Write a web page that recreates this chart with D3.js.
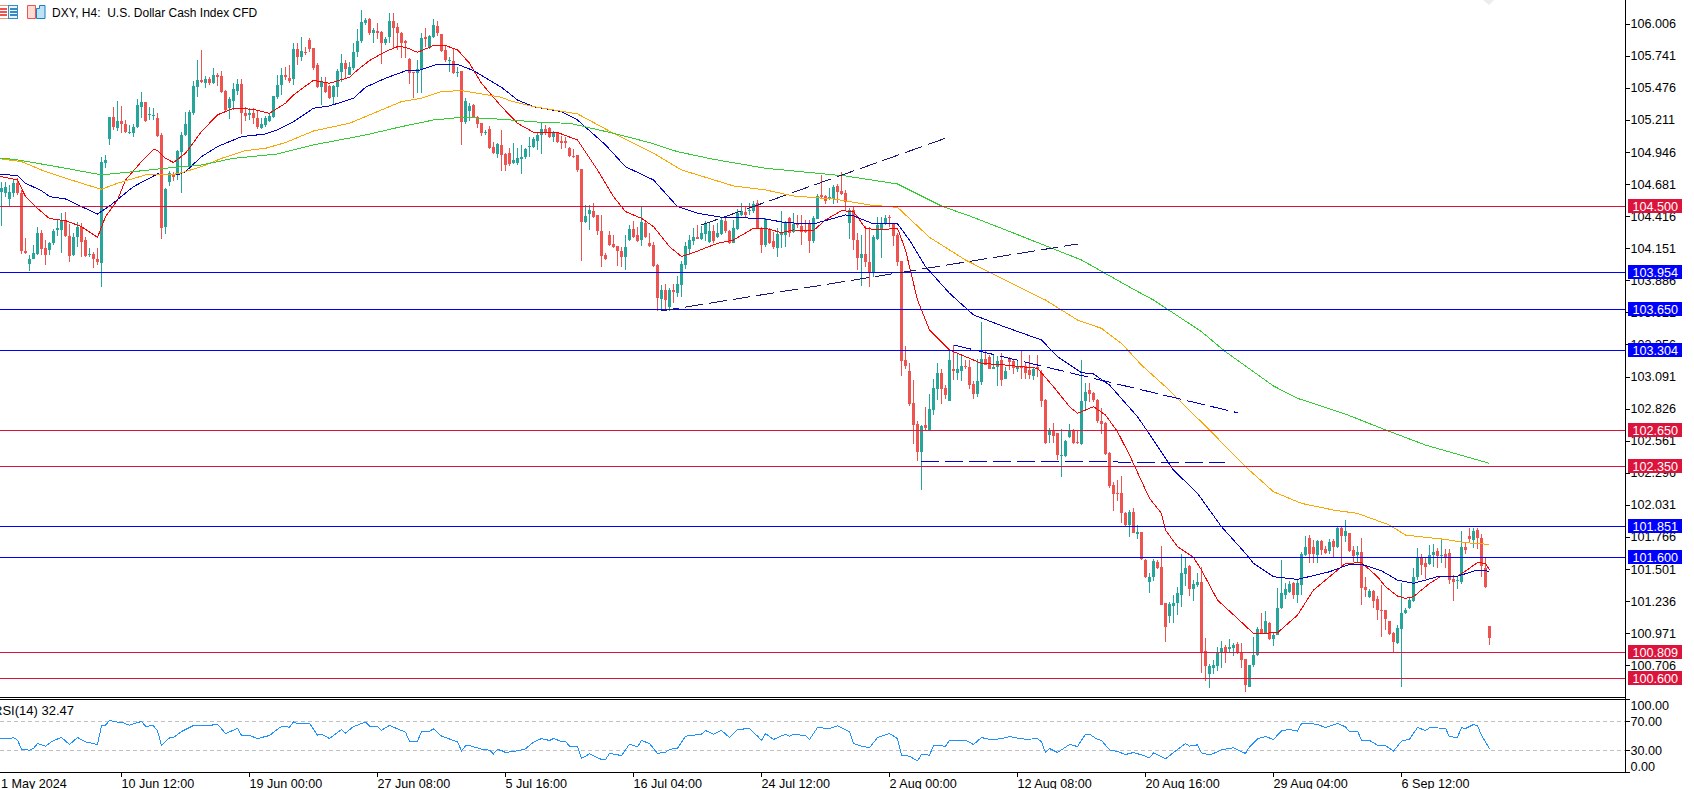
<!DOCTYPE html>
<html>
<head>
<meta charset="utf-8">
<title>DXY H4</title>
<script src="https://cdnjs.cloudflare.com/ajax/libs/d3/7.8.5/d3.min.js"></script>
<style>
  html, body { margin: 0; padding: 0; background: #fff; overflow: hidden; }
  svg { display: block; }
  text { font-family: "Liberation Sans", Arial, sans-serif; font-size: 12.6px; fill: #000; }
</style>
</head>
<body>
<div id="chart"></div>
<script>
// prices, one entry per bar
const opens = [
  104.623,104.609,104.562,104.609,104.697,104.615,104.135,104.025,104.069,104.108,
  104.284,104.155,104.141,104.196,104.306,104.306,104.378,104.256,104.097,104.245,
  104.328,104.223,104.099,104.108,104.064,104.031,104.863,105.058,105.243,105.146,
  105.210,105.182,105.105,105.111,105.155,105.325,105.364,105.257,105.254,105.232,
  105.094,104.328,104.703,104.769,104.769,104.951,105.091,104.829,105.270,105.485,
  105.546,105.518,105.557,105.524,105.587,105.579,105.458,105.314,105.375,105.458,
  105.513,105.276,105.259,105.270,105.232,105.149,105.171,105.210,105.243,105.408,
  105.502,105.584,105.562,105.551,105.799,105.739,105.780,105.876,105.808,105.670,
  105.485,105.532,105.496,105.408,105.491,105.612,105.684,105.590,105.642,105.780,
  105.871,106.014,106.047,105.931,105.948,105.943,105.854,105.898,106.031,105.981,
  105.937,105.865,105.717,105.612,105.606,105.634,105.898,105.808,105.904,105.992,
  105.926,105.794,105.706,105.700,105.601,105.623,105.199,105.292,105.336,105.237,
  105.188,105.108,105.138,104.989,104.934,105.009,104.934,104.945,104.863,104.863,
  104.896,104.907,104.989,104.995,105.044,105.088,105.138,105.149,105.077,105.116,
  105.044,105.039,104.981,104.918,104.926,104.807,104.372,104.438,104.466,104.430,
  104.295,104.102,104.262,104.188,104.174,104.132,104.086,104.223,104.312,104.265,
  104.223,104.361,104.196,104.182,104.017,103.739,103.810,103.667,103.807,103.783,
  103.849,104.020,104.152,104.212,104.248,104.234,104.273,104.207,104.295,104.251,
  104.273,104.383,104.295,104.201,104.317,104.430,104.455,104.460,104.466,104.526,
  104.323,104.179,104.312,104.212,104.157,104.267,104.267,104.402,104.290,104.356,
  104.339,104.301,104.367,104.212,104.400,104.593,104.587,104.565,104.565,104.670,
  104.628,104.615,104.367,104.471,104.223,104.075,104.108,104.042,103.959,104.229,
  104.306,104.356,104.416,104.356,104.262,104.047,103.232,103.138,102.873,102.703,
  102.471,102.694,102.653,102.818,102.989,103.127,103.000,102.895,103.154,103.127,
  103.143,103.182,103.171,103.033,102.951,103.050,103.237,103.259,103.160,103.171,
  103.232,103.077,103.237,103.226,103.154,103.182,103.182,103.149,103.099,103.171,
  103.127,102.901,102.609,102.648,102.625,102.444,102.438,102.592,102.648,102.554,
  102.537,102.890,102.984,102.956,102.901,102.730,102.714,102.466,102.198,102.135,
  102.135,101.964,101.871,101.975,101.793,101.810,101.579,101.397,101.441,101.565,
  101.518,101.220,101.116,101.198,101.220,101.292,101.463,101.529,101.336,101.369,
  101.397,100.824,100.636,100.686,100.703,100.813,100.857,100.846,100.851,100.884,
  100.813,100.758,100.532,100.708,100.796,101.006,100.978,101.061,100.923,100.961,
  101.179,101.292,101.314,101.386,101.292,101.369,101.617,101.760,101.683,101.623,
  101.733,101.667,101.656,101.733,101.689,101.843,101.777,101.799,101.661,101.617,
  101.645,101.353,101.270,101.320,101.256,101.165,101.165,101.074,100.975,100.890,
  101.011,101.138,101.179,101.242,101.435,101.601,101.551,101.546,101.620,101.653,
  101.614,101.628,101.639,101.421,101.410,101.399,101.683,101.777,101.744,101.827,
  101.758,101.510,101.033
];
const highs = [
  104.706,104.706,104.678,104.719,104.733,104.637,104.237,104.099,104.182,104.328,
  104.306,104.223,104.210,104.317,104.389,104.444,104.452,104.356,104.278,104.369,
  104.361,104.245,104.155,104.127,104.155,104.912,104.926,105.243,105.320,105.369,
  105.331,105.215,105.174,105.182,105.392,105.444,105.364,105.320,105.312,105.270,
  105.105,104.650,104.791,104.788,104.967,105.119,105.281,105.298,105.535,105.711,
  105.794,105.579,105.573,105.642,105.606,105.623,105.463,105.403,105.518,105.557,
  105.551,105.320,105.312,105.312,105.292,105.232,105.248,105.270,105.414,105.590,
  105.642,105.656,105.670,105.849,105.854,105.904,105.821,105.890,105.808,105.689,
  105.573,105.573,105.504,105.507,105.634,105.761,105.711,105.697,105.854,105.965,
  106.124,106.055,106.055,105.973,106.020,105.954,105.898,106.102,106.102,106.014,
  105.945,105.876,105.725,105.612,105.711,105.931,105.973,105.918,106.047,106.036,
  105.926,105.827,105.739,105.808,105.656,105.623,105.394,105.353,105.347,105.248,
  105.193,105.133,105.166,105.036,105.022,105.133,104.945,104.981,105.022,104.981,
  105.009,104.981,105.072,105.072,105.116,105.188,105.171,105.160,105.127,105.119,
  105.083,105.077,104.995,104.978,104.926,104.807,104.513,104.513,104.526,104.430,
  104.430,104.119,104.295,104.267,104.174,104.168,104.265,104.347,104.383,104.334,
  104.499,104.375,104.278,104.210,104.025,103.851,103.860,103.824,103.860,103.926,
  104.053,104.210,104.265,104.320,104.347,104.339,104.383,104.367,104.347,104.361,
  104.416,104.405,104.306,104.389,104.477,104.526,104.493,104.526,104.548,104.554,
  104.334,104.402,104.320,104.292,104.320,104.460,104.383,104.411,104.444,104.430,
  104.430,104.389,104.389,104.422,104.603,104.758,104.595,104.650,104.678,104.686,
  104.788,104.637,104.485,104.499,104.278,104.265,104.339,104.334,104.265,104.416,
  104.416,104.430,104.430,104.361,104.278,104.053,103.347,103.210,103.066,102.730,
  102.694,102.840,102.951,103.072,103.204,103.154,103.025,103.314,103.356,103.287,
  103.273,103.232,103.232,103.061,103.237,103.546,103.309,103.273,103.273,103.265,
  103.287,103.176,103.254,103.237,103.232,103.309,103.218,103.273,103.176,103.273,
  103.149,102.912,102.667,102.714,102.631,102.659,102.570,102.703,102.659,102.653,
  103.232,103.039,103.044,102.970,102.912,102.832,102.722,102.474,102.226,102.240,
  102.273,101.978,101.992,102.006,101.865,101.813,101.584,101.468,101.584,101.579,
  101.694,101.226,101.234,101.289,101.353,101.628,101.601,101.537,101.413,101.468,
  101.518,100.934,100.719,100.752,100.862,100.912,100.876,100.923,100.895,100.904,
  100.890,100.758,100.714,100.945,101.022,101.143,101.154,101.069,100.972,101.344,
  101.579,101.386,101.408,101.399,101.413,101.647,101.777,101.785,101.744,101.744,
  101.744,101.694,101.749,101.755,101.860,101.854,101.909,101.804,101.694,101.694,
  101.758,101.441,101.336,101.331,101.281,101.372,101.165,101.077,100.984,101.041,
  101.386,101.179,101.270,101.510,101.675,101.628,101.601,101.703,101.711,101.675,
  101.749,101.667,101.667,101.455,101.435,101.821,101.725,101.840,101.843,101.840,
  101.793,101.592,101.033
];
const lows = [
  104.339,104.582,104.493,104.582,104.595,104.108,104.108,103.970,104.064,104.099,
  104.099,104.017,104.099,104.182,104.256,104.113,104.251,104.044,104.091,104.163,
  104.080,104.080,104.086,103.995,104.017,103.838,104.821,105.009,105.133,105.127,
  105.111,105.105,105.100,105.077,105.146,105.229,105.199,105.215,105.215,105.077,
  104.234,104.273,104.670,104.714,104.719,104.615,105.083,104.816,105.257,105.408,
  105.524,105.477,105.502,105.513,105.496,105.436,105.292,105.226,105.298,105.422,
  105.100,105.210,105.215,105.182,105.138,105.144,105.160,105.199,105.229,105.392,
  105.422,105.546,105.524,105.504,105.670,105.706,105.752,105.780,105.628,105.477,
  105.339,105.436,105.386,105.347,105.408,105.532,105.560,105.584,105.628,105.739,
  105.854,106.000,105.918,105.854,105.882,105.678,105.835,105.849,105.808,105.794,
  105.725,105.725,105.513,105.397,105.436,105.441,105.816,105.799,105.890,105.909,
  105.780,105.697,105.615,105.595,105.568,105.009,105.182,105.204,105.237,105.146,
  105.083,105.091,104.973,104.934,104.904,104.796,104.796,104.835,104.852,104.843,
  104.769,104.896,104.907,104.981,104.967,104.934,105.088,105.066,105.036,105.022,
  104.973,104.981,104.907,104.898,104.785,104.053,104.361,104.306,104.402,104.265,
  104.003,104.058,104.174,104.157,104.009,103.998,103.975,104.218,104.240,104.207,
  104.174,104.237,104.168,104.003,103.639,103.639,103.645,103.634,103.700,103.750,
  103.755,103.981,104.099,104.182,104.229,104.223,104.218,104.196,104.201,104.237,
  104.265,104.284,104.190,104.196,104.306,104.422,104.411,104.430,104.444,104.312,
  104.113,104.168,104.190,104.146,104.080,104.155,104.168,104.251,104.284,104.320,
  104.182,104.278,104.119,104.196,104.394,104.568,104.521,104.554,104.521,104.526,
  104.595,104.471,104.229,104.141,103.975,103.843,104.003,103.832,103.915,104.223,
  104.072,104.347,104.334,104.174,104.009,103.099,103.154,102.851,102.537,102.400,
  102.157,102.653,102.648,102.777,102.901,102.868,102.906,102.890,103.066,103.066,
  103.061,103.154,102.989,102.909,102.929,103.025,103.187,103.154,103.154,103.017,
  103.017,103.072,103.149,103.116,103.135,103.075,103.075,103.072,103.066,103.094,
  102.840,102.537,102.548,102.548,102.405,102.267,102.427,102.584,102.537,102.537,
  102.529,102.818,102.887,102.887,102.714,102.620,102.446,102.171,101.986,102.069,
  101.887,101.849,101.766,101.799,101.755,101.579,101.427,101.309,101.408,101.507,
  101.204,100.904,101.055,101.061,101.124,101.193,101.364,101.281,101.242,101.358,
  100.642,100.581,100.523,100.636,100.664,100.683,100.730,100.807,100.785,100.802,
  100.683,100.490,100.526,100.697,100.785,100.967,100.972,100.917,100.868,100.956,
  101.171,101.253,101.303,101.259,101.226,101.289,101.612,101.557,101.551,101.551,
  101.620,101.628,101.628,101.606,101.678,101.518,101.730,101.647,101.565,101.565,
  101.207,101.275,101.262,101.179,101.083,100.945,101.000,100.961,100.816,100.884,
  100.532,101.133,101.171,101.231,101.413,101.455,101.419,101.537,101.518,101.510,
  101.551,101.510,101.380,101.242,101.336,101.380,101.628,101.730,101.675,101.672,
  101.441,101.344,100.876
];
const closes = [
  104.651,104.664,104.623,104.692,104.615,104.135,104.113,104.064,104.113,104.278,
  104.146,104.097,104.196,104.301,104.323,104.383,104.256,104.091,104.251,104.334,
  104.210,104.094,104.105,104.064,104.044,104.871,104.882,105.237,105.155,105.210,
  105.182,105.119,105.116,105.155,105.336,105.364,105.210,105.265,105.259,105.083,
  104.323,104.642,104.774,104.747,104.962,105.091,105.182,105.281,105.496,105.546,
  105.529,105.551,105.518,105.584,105.571,105.447,105.298,105.386,105.469,105.513,
  105.270,105.248,105.270,105.232,105.155,105.182,105.232,105.248,105.414,105.504,
  105.590,105.568,105.535,105.799,105.739,105.785,105.774,105.799,105.645,105.485,
  105.532,105.449,105.397,105.496,105.623,105.684,105.639,105.656,105.780,105.871,
  106.025,106.042,105.931,105.959,105.937,105.854,105.882,106.031,105.973,105.937,
  105.849,105.854,105.601,105.601,105.634,105.890,105.882,105.909,105.998,105.931,
  105.788,105.711,105.711,105.606,105.615,105.199,105.375,105.331,105.243,105.182,
  105.111,105.113,104.984,104.940,105.017,104.926,104.843,104.852,104.885,104.898,
  104.912,104.976,105.000,105.055,105.091,105.138,105.111,105.077,105.111,105.033,
  105.028,105.028,104.918,104.907,104.802,104.372,104.422,104.471,104.411,104.301,
  104.091,104.064,104.179,104.163,104.135,104.086,104.168,104.312,104.245,104.212,
  104.372,104.245,104.174,104.009,103.744,103.810,103.727,103.810,103.794,103.860,
  104.025,104.174,104.223,104.245,104.234,104.278,104.356,104.301,104.212,104.284,
  104.389,104.295,104.201,104.320,104.449,104.460,104.433,104.471,104.521,104.323,
  104.179,104.394,104.201,104.168,104.273,104.278,104.367,104.278,104.356,104.345,
  104.292,104.295,104.212,104.405,104.587,104.576,104.548,104.576,104.664,104.620,
  104.603,104.537,104.471,104.223,104.075,104.108,104.042,103.959,104.245,104.347,
  104.361,104.405,104.405,104.256,104.044,103.226,103.182,102.868,102.697,102.471,
  102.686,102.667,102.824,103.000,103.121,102.995,102.940,103.232,103.138,103.154,
  103.182,103.176,103.022,102.951,103.055,103.237,103.193,103.160,103.176,103.221,
  103.066,103.143,103.215,103.165,103.176,103.165,103.127,103.105,103.154,103.154,
  102.895,102.548,102.648,102.603,102.449,102.449,102.559,102.648,102.543,102.543,
  102.890,102.967,102.951,102.901,102.730,102.703,102.455,102.190,102.124,102.130,
  101.964,101.868,101.975,101.804,101.810,101.584,101.435,101.435,101.568,101.513,
  101.209,101.028,101.215,101.220,101.303,101.468,101.513,101.336,101.380,101.397,
  100.813,100.703,100.703,100.711,100.813,100.851,100.818,100.862,100.879,100.807,
  100.752,100.545,100.711,100.796,101.006,100.972,101.072,100.928,100.956,101.179,
  101.303,101.336,101.380,101.292,101.386,101.628,101.683,101.628,101.628,101.733,
  101.661,101.639,101.727,101.683,101.843,101.777,101.821,101.656,101.612,101.645,
  101.347,101.331,101.325,101.237,101.165,101.160,101.088,100.967,100.898,101.017,
  101.138,101.165,101.248,101.441,101.601,101.537,101.518,101.620,101.647,101.612,
  101.620,101.601,101.413,101.399,101.416,101.689,101.661,101.749,101.821,101.760,
  101.529,101.353,100.937
];

// moving averages, read at the bars where the line bends
const fastBars = [-1,0,4,6,9,12,16,20,24,26,29,31,35,38,39,41,43,46,50,54,58,63,67,71,73,78,82,87,89,92,96,99,101,104,108,111,114,117,120,125,129,133,139,144,149,153,156,160,163,167,170,173,179,183,188,191,195,198,203,206,210,213,216,219,224,226,228,229,232,237,245,251,259,263,267,269,273,276,279,282,287,290,291,294,298,300,304,309,313,319,324,328,333,336,340,344,346,349,351,353,357,360,364,367,369,371,372];
const fastMa = [104.750,104.747,104.719,104.582,104.485,104.400,104.383,104.334,104.245,104.416,104.554,104.719,104.871,104.973,104.962,104.898,104.863,104.940,105.119,105.257,105.312,105.303,105.270,105.353,105.422,105.543,105.518,105.568,105.628,105.706,105.780,105.821,105.816,105.774,105.830,105.830,105.794,105.684,105.518,105.325,105.188,105.113,105.111,105.050,104.802,104.582,104.458,104.402,104.334,104.168,104.086,104.119,104.196,104.223,104.320,104.320,104.284,104.306,104.301,104.389,104.466,104.458,104.320,104.306,104.320,104.141,103.865,103.727,103.480,103.314,103.204,103.190,103.163,103.011,102.846,102.791,102.846,102.777,102.639,102.446,102.088,101.964,101.827,101.689,101.601,101.496,101.248,101.096,100.972,100.978,101.124,101.331,101.468,101.551,101.557,101.441,101.358,101.281,101.262,101.276,101.386,101.446,101.446,101.510,101.559,101.551,101.496];
const midBars = [-1,0,4,6,10,12,16,20,24,27,33,39,44,46,50,54,60,66,69,73,78,82,88,91,96,101,104,109,114,118,125,129,133,140,144,151,156,163,169,174,180,190,196,203,211,213,218,224,227,231,237,243,250,260,264,270,273,277,284,288,293,299,305,311,313,318,324,332,337,340,345,349,353,359,364,369,371,372];
const midMa = [104.766,104.766,104.755,104.692,104.631,104.582,104.562,104.499,104.438,104.504,104.664,104.769,104.761,104.788,104.912,104.995,105.077,105.099,105.133,105.201,105.312,105.331,105.394,105.485,105.560,105.620,105.620,105.675,105.675,105.623,105.485,105.380,105.325,105.284,105.215,105.009,104.829,104.719,104.499,104.444,104.411,104.402,104.367,104.356,104.430,104.422,104.356,104.356,104.223,104.003,103.783,103.604,103.515,103.397,103.259,103.127,103.116,103.025,102.763,102.570,102.322,102.130,101.854,101.634,101.551,101.441,101.419,101.482,101.543,101.543,101.490,101.413,101.386,101.441,101.446,101.496,101.496,101.477];
const slowBars = [-1,0,5,11,20,25,29,36,44,50,55,61,66,71,78,87,94,100,105,110,115,125,127,133,144,153,163,170,183,191,198,208,217,224,232,241,250,261,269,275,280,285,291,302,311,318,325,333,339,347,351,361,366,372];
const slowMa = [104.895,104.893,104.871,104.788,104.692,104.642,104.692,104.761,104.769,104.829,104.898,104.962,104.981,105.028,105.124,105.188,105.284,105.367,105.394,105.449,105.458,105.403,105.375,105.325,105.265,105.105,104.940,104.802,104.670,104.637,104.587,104.562,104.513,104.493,104.245,104.058,103.907,103.727,103.562,103.493,103.369,103.190,103.011,102.653,102.350,102.143,102.047,101.992,101.964,101.868,101.785,101.749,101.722,101.708];
const longBars = [-1,0,3,9,16,25,33,41,50,58,69,78,91,100,108,115,125,136,142,153,162,169,178,191,211,224,235,242,250,270,283,288,300,306,318,324,336,345,356,372];
const longMa = [104.900,104.898,104.890,104.857,104.816,104.761,104.788,104.816,104.843,104.898,104.934,105.009,105.091,105.160,105.215,105.237,105.221,105.193,105.188,105.105,105.028,104.953,104.890,104.816,104.752,104.686,104.504,104.422,104.320,104.058,103.816,103.727,103.466,103.300,103.017,102.915,102.785,102.667,102.529,102.378];

const rsiBars = [-1,0,2,3,4,5,7,8,9,11,13,15,17,19,21,24,25,26,27,29,30,32,34,35,36,38,39,40,42,43,45,46,48,52,54,56,58,59,60,62,64,67,69,70,72,73,74,77,79,80,82,85,86,88,91,92,94,95,97,100,101,102,104,105,107,108,110,114,115,116,117,120,122,123,124,125,126,129,131,133,135,137,138,140,141,142,144,145,147,150,151,152,155,157,159,160,162,164,166,167,169,171,175,176,178,180,182,184,187,189,190,191,193,196,197,198,201,202,204,207,209,212,213,215,217,219,222,224,225,227,229,230,232,233,236,237,241,243,245,247,250,252,254,256,259,260,261,262,264,267,269,271,272,274,275,277,279,281,283,285,287,288,291,293,296,297,299,300,302,303,305,308,311,312,314,316,318,320,322,324,325,327,329,331,334,336,337,339,340,342,344,346,348,350,352,354,356,357,361,362,364,365,366,368,369,370,372];
const rsiValues = [46.5,46.5,46.1,47.9,44.2,31.8,30.5,32.8,39.6,36.0,43.8,47.9,38.3,47.9,41.9,38.3,64.0,64.9,71.4,69.1,69.1,64.9,68.6,70.0,63.6,64.0,57.1,36.9,47.5,47.9,56.2,59.0,64.5,64.5,66.3,53.4,58.0,60.8,50.7,50.7,46.5,50.7,59.4,63.1,62.2,69.5,67.2,67.7,51.1,52.5,46.5,59.0,53.9,63.1,69.1,63.6,63.1,58.0,64.5,57.6,55.3,42.4,42.9,56.2,56.7,59.9,49.8,41.9,29.5,36.4,36.9,31.8,30.5,25.4,31.4,30.0,27.2,29.5,32.3,41.5,46.5,43.8,46.5,42.4,42.4,36.0,35.0,19.0,25.4,17.6,17.6,25.9,23.1,38.7,35.0,43.8,39.7,25.9,27.7,31.4,33.2,49.8,52.5,57.6,52.5,57.6,47.9,59.0,60.3,49.8,43.8,53.4,45.2,52.5,49.8,52.1,50.7,45.2,61.7,60.3,64.0,55.7,39.7,36.0,33.7,47.9,53.4,46.5,23.6,22.2,15.7,24.5,23.6,36.9,36.0,43.8,44.2,38.3,47.9,45.2,46.1,49.3,47.0,45.6,46.1,41.9,27.2,32.8,27.2,38.3,35.5,52.5,52.5,45.2,43.8,30.9,28.6,24.5,27.2,24.0,19.9,26.8,18.5,27.2,39.7,36.0,37.8,26.8,24.0,25.9,30.9,33.7,25.9,35.0,46.1,49.3,45.2,57.1,59.0,56.7,67.2,67.2,65.9,61.7,67.2,62.6,55.7,56.7,44.2,43.8,37.4,36.9,29.1,42.9,45.6,61.7,57.6,61.3,60.8,48.8,48.4,61.3,60.3,65.9,64.0,51.1,32.47];

// horizontal levels and hand drawn trend lines
const supportLevels = [103.954, 103.650, 103.304, 101.851, 101.600];
const resistanceLevels = [104.500, 102.650, 102.350, 100.809, 100.600];
const levelFormat = d3.format('.3f');
const navyTrends = [[165, 103.637, 269, 104.190], [175, 104.347, 236, 105.064]];
const blueTrends = [[238, 103.356, 309, 102.796], [230, 102.394, 306, 102.386]];

const priceTicks = [106.006,105.741,105.476,105.211,104.946,104.681,104.416,104.151,103.886,103.621,103.356,103.091,102.826,102.561,102.296,102.031,101.766,101.501,101.236,100.971,100.706];
const rsiTicks = [100, 70, 30, 0];
const rsiGuides = [70, 30];
const timeBars = [-2,30,62,94,126,158,190,222,254,286,318,350];
const timeLabels = ['1 May 2024','10 Jun 12:00','19 Jun 00:00','27 Jun 08:00','5 Jul 16:00','16 Jul 04:00','24 Jul 12:00','2 Aug 00:00','12 Aug 08:00','20 Aug 16:00','29 Aug 04:00','6 Sep 12:00'];

const width = 1694;
const height = 789;
const axisX = 1625.5;
const mainBottom = 697.5;
const rsiTop = 699.5;
const rsiBottom = 772.5;
const UP_COLOR = '#26a69a';
const DOWN_COLOR = '#ef5350';

const x = d3.scaleLinear().domain([0, 1]).range([1.5, 5.5]);
const y = d3.scaleLinear().domain([104.5, 100.6]).range([206.5, 678.5]);
const yRsi = d3.scaleLinear().domain([70, 30]).range([721.5, 750.5]);
const levelY = d => Math.floor(y(d) - 0.3) + 0.5;

const svg = d3.select('#chart').append('svg').attr('width', width).attr('height', height);

svg.append('clipPath').attr('id', 'main-clip')
  .append('rect').attr('width', axisX).attr('height', mainBottom);

// faint mark at the top edge of the picture
svg.append('path').attr('d', 'M1483 0L1494 0L1489 5z').attr('fill', '#f0e9f1');

const main = svg.append('g').attr('clip-path', 'url(#main-clip)');

// candles
const candles = main.selectAll('.candle').data(opens).enter().append('g').attr('class', 'candle');
candles.append('line')
  .attr('x1', (d, i) => x(i)).attr('x2', (d, i) => x(i))
  .attr('y1', (d, i) => y(highs[i])).attr('y2', (d, i) => y(lows[i]))
  .attr('stroke', (d, i) => closes[i] >= d ? UP_COLOR : DOWN_COLOR)
  .attr('shape-rendering', 'crispEdges');
candles.append('rect')
  .attr('x', (d, i) => x(i) - 1.5)
  .attr('width', 3)
  .attr('y', (d, i) => y(Math.max(d, closes[i])))
  .attr('height', (d, i) => Math.max(1, Math.abs(y(d) - y(closes[i]))))
  .attr('fill', (d, i) => closes[i] >= d ? UP_COLOR : DOWN_COLOR)
  .attr('shape-rendering', 'crispEdges');

// moving averages
const maLine = bars => d3.line().x((d, i) => x(bars[i])).y(d => y(d));
[[fastBars, fastMa, '#ff0000'], [midBars, midMa, '#0000cd'], [slowBars, slowMa, '#ffa500'], [longBars, longMa, '#32cd32']]
  .forEach(([bars, values, color]) => {
    main.append('path')
      .attr('d', maLine(bars)(values))
      .attr('fill', 'none')
      .attr('stroke', color)
      .attr('shape-rendering', 'crispEdges');
  });

// levels
main.selectAll('.resistance').data(resistanceLevels).enter().append('line')
  .attr('class', 'resistance')
  .attr('x1', 0).attr('x2', axisX).attr('y1', levelY).attr('y2', levelY)
  .attr('stroke', '#dc143c').attr('shape-rendering', 'crispEdges');
main.selectAll('.support').data(supportLevels).enter().append('line')
  .attr('class', 'support')
  .attr('x1', 0).attr('x2', axisX).attr('y1', levelY).attr('y2', levelY)
  .attr('stroke', '#0000ff').attr('shape-rendering', 'crispEdges');

// trend lines
const drawTrends = (list, color) => {
  main.selectAll(null).data(list).enter().append('line')
    .attr('x1', d => x(d[0])).attr('y1', d => y(d[1]))
    .attr('x2', d => x(d[2])).attr('y2', d => y(d[3]))
    .attr('stroke', color)
    .attr('stroke-dasharray', '18 6')
    .attr('shape-rendering', 'crispEdges');
};
drawTrends(navyTrends, '#191970');
drawTrends(blueTrends, '#0000cd');

// rsi panel
svg.selectAll('.rsi-guide').data(rsiGuides).enter().append('line')
  .attr('class', 'rsi-guide')
  .attr('x1', 0).attr('x2', axisX).attr('y1', d => yRsi(d)).attr('y2', d => yRsi(d))
  .attr('stroke', '#c0c0c0').attr('stroke-dasharray', '4 3').attr('shape-rendering', 'crispEdges');
svg.append('path')
  .attr('d', d3.line().x((d, i) => x(rsiBars[i])).y(d => yRsi(d))(rsiValues))
  .attr('fill', 'none').attr('stroke', '#1e90ff').attr('shape-rendering', 'crispEdges');
svg.append('text').attr('x', 74).attr('y', 715).attr('text-anchor', 'end').style('font-size', '13px').text('RSI(14) 32.47');

// panel frames
[mainBottom, rsiTop, rsiBottom].forEach(py => {
  svg.append('line').attr('x1', 0).attr('x2', axisX).attr('y1', py).attr('y2', py)
    .attr('stroke', '#000').attr('shape-rendering', 'crispEdges');
});
svg.append('line').attr('x1', axisX).attr('x2', axisX).attr('y1', 0).attr('y2', rsiBottom)
  .attr('stroke', '#000').attr('shape-rendering', 'crispEdges');

// axes
const priceAxis = svg.append('g').attr('transform', `translate(${axisX},0)`)
  .call(d3.axisRight(y).tickValues(priceTicks).tickFormat(levelFormat).tickSize(4).tickPadding(1).offset(0));
const rsiAxis = svg.append('g').attr('transform', `translate(${axisX},0)`)
  .call(d3.axisRight(yRsi).tickValues(rsiTicks).tickFormat(d3.format('.2f')).tickSize(4).tickPadding(1).offset(0));
rsiAxis.selectAll('.tick text').attr('dy', d => d === 100 ? '0.85em' : d === 0 ? '-0.1em' : '0.32em');
const timeAxis = svg.append('g').attr('transform', `translate(0,${rsiBottom})`)
  .call(d3.axisBottom(x).tickValues(timeBars).tickFormat((d, i) => timeLabels[i]).tickSize(4).tickPadding(3).offset(0));
timeAxis.selectAll('.tick text').attr('text-anchor', 'start');
timeAxis.selectAll('.tick').filter(d => d < 0).select('text').attr('dx', 7.5);
[priceAxis, rsiAxis, timeAxis].forEach(a => {
  a.select('.domain').remove();
  a.selectAll('line').attr('stroke', '#000').attr('shape-rendering', 'crispEdges');
  a.attr('font-size', null).attr('font-family', null);
});

// level tags on the price axis
const tags = svg.selectAll('.tag').data(supportLevels.map(v => [v, '#0000ff']).concat(resistanceLevels.map(v => [v, '#dc143c'])))
  .enter().append('g').attr('class', 'tag')
  .attr('transform', d => `translate(1628,${levelY(d[0])})`);
tags.append('rect').attr('y', -7.5).attr('width', 54).attr('height', 14).attr('fill', d => d[1]);
tags.append('text').attr('x', 4.5).attr('dy', '0.33em').style('fill', '#fff').text(d => levelFormat(d[0]));

// title and the two small toolbar icons
const icons = svg.append('g');
icons.append('rect').attr('x', -1.5).attr('y', 5.5).attr('width', 19).attr('height', 13).attr('fill', '#fff').attr('stroke', '#e9967a');
icons.append('rect').attr('x', 8.5).attr('y', 5.5).attr('width', 9).attr('height', 13).attr('fill', '#eaf4fb').attr('stroke', '#3a8ac4');
[9, 12, 15].forEach(py => {
  icons.append('line').attr('x1', 0).attr('x2', 7).attr('y1', py).attr('y2', py).attr('stroke', '#ef5350').attr('stroke-width', 2);
  icons.append('line').attr('x1', 10).attr('x2', 17).attr('y1', py).attr('y2', py).attr('stroke', '#3a8ac4').attr('stroke-width', 2);
});
icons.append('path').attr('d', 'M27.5 5.5h8v13h-8z').attr('fill', '#fbdcd4').attr('stroke', '#ef5350');
icons.append('path').attr('d', 'M36.5 8.5h3v-3h5.500v13h-8.500z').attr('fill', '#bfe1f6').attr('stroke', '#1c7fbf');
svg.append('text').attr('x', 52).attr('y', 17).style('font-size', '12px').style('white-space', 'pre').text('DXY, H4:  U.S. Dollar Cash Index CFD');
</script>
</body>
</html>
